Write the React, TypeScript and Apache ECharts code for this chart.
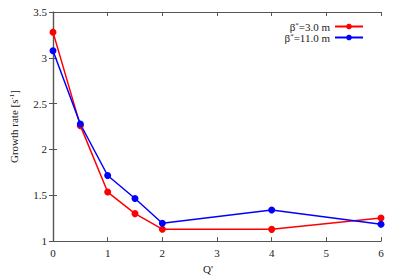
import React, { useEffect, useRef } from "react";
import * as echarts from "echarts";

const qValues = [0, 0.5, 1, 1.5, 2, 4, 6];
const beta3Rates = [3.28, 2.26, 1.535, 1.3, 1.13, 1.128, 1.252];
const beta11Rates = [3.078, 2.278, 1.716, 1.465, 1.195, 1.34, 1.184];
const seriesNames = ["b3", "b11"];
const legendLabels: Record<string, string> = {
  b3: "{t|β}{s|*}{t|=3.0 m}",
  b11: "{t|β}{s|*}{t|=11.0 m}",
};
const xTicks = [0, 6, 1];
const yTicks = [1, 3.5, 0.5];

const FONT = "'Liberation Serif', 'Times New Roman', 'DejaVu Serif', serif";
const AXIS = "#555555";

export default function App() {
  const ref = useRef<HTMLDivElement>(null);
  useEffect(() => {
    if (!ref.current) return;
    const chart = echarts.init(ref.current, undefined, { renderer: "svg" });
    const tick = { show: true, inside: true, length: 4, lineStyle: { color: AXIS, width: 1 } };
    const line = { show: true, lineStyle: { color: AXIS, width: 1.2 } };
    const label = { fontFamily: FONT, fontSize: 11, color: "#222" };
    chart.setOption({
      animation: false,
      backgroundColor: "#fff",
      grid: { left: 49, right: 18, top: 12, bottom: 32, containLabel: false },
      legend: {
        data: seriesNames,
        right: 30,
        top: 16,
        orient: "vertical",
        align: "right",
        itemWidth: 28,
        itemHeight: 7,
        itemGap: 0,
        formatter: (n: string) => legendLabels[n],
        textStyle: {
          fontFamily: FONT,
          fontSize: 11,
          color: "#222",
          rich: {
            t: { fontFamily: FONT, fontSize: 11, color: "#222" },
            s: { fontFamily: FONT, fontSize: 7, color: "#222", verticalAlign: "top", padding: [0, 0, 3, 0] },
          },
        },
      },
      xAxis: [
        {
          type: "value",
          min: xTicks[0],
          max: xTicks[1],
          interval: xTicks[2],
          position: "bottom",
          name: "Q'",
          nameLocation: "middle",
          nameGap: 21,
          nameTextStyle: { fontFamily: FONT, fontSize: 11, color: "#222", padding: [0, 18, 0, 0] },
          axisLine: line,
          axisTick: tick,
          axisLabel: { ...label, margin: 6 },
          splitLine: { show: false },
        },
        {
          type: "value",
          min: xTicks[0],
          max: xTicks[1],
          interval: xTicks[2],
          position: "top",
          axisLine: line,
          axisTick: tick,
          axisLabel: { show: false },
          splitLine: { show: false },
        },
      ],
      yAxis: [
        {
          type: "value",
          min: yTicks[0],
          max: yTicks[1],
          interval: yTicks[2],
          position: "left",
          name: "Growth rate [s{s|-1}]",
          nameLocation: "middle",
          nameGap: 34,
          nameRotate: 90,
          nameTextStyle: {
            fontFamily: FONT,
            fontSize: 11,
            color: "#222",
            rich: {
              s: { fontFamily: FONT, fontSize: 7, color: "#222", verticalAlign: "top", padding: [0, 0, 3, 0] },
            },
          },
          axisLine: line,
          axisTick: tick,
          axisLabel: { ...label, margin: 6 },
          splitLine: { show: false },
        },
        {
          type: "value",
          min: yTicks[0],
          max: yTicks[1],
          interval: yTicks[2],
          position: "right",
          axisLine: line,
          axisTick: tick,
          axisLabel: { show: false },
          splitLine: { show: false },
        },
      ],
      series: [
        {
          name: seriesNames[0],
          type: "line",
          data: qValues.map((q, i) => [q, beta3Rates[i]]),
          symbol: "circle",
          symbolSize: 7,
          itemStyle: { color: "#ff0000" },
          lineStyle: { color: "#ff0000", width: 1.5 },
        },
        {
          name: seriesNames[1],
          type: "line",
          data: qValues.map((q, i) => [q, beta11Rates[i]]),
          symbol: "circle",
          symbolSize: 7,
          itemStyle: { color: "#0000ff" },
          lineStyle: { color: "#0000ff", width: 1.5 },
        },
      ],
    });
    return () => chart.dispose();
  }, []);
  return <div ref={ref} style={{ width: 399, height: 279, position: "fixed", left: 0, top: 0 }} />;
}
